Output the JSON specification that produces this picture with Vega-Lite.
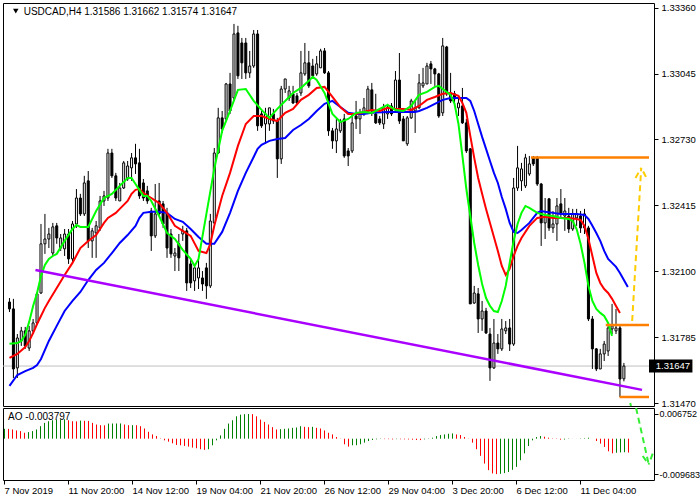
{
"$schema": "https://vega.github.io/schema/vega-lite/v6.json",
"background": "white",
"padding": {"left": 2, "top": 2, "right": 0, "bottom": 0},
"bounds": "flush",
"spacing": 2,
"config": {
  "view": {"stroke": "black", "strokeWidth": 1},
  "axis": {"labelFont": "Liberation Sans", "labelFontSize": 9.5, "labelColor": "black", "tickColor": "black", "domain": false, "grid": false},
  "text": {"font": "Liberation Sans"}
},
"datasets": {
"one": [{}],
"candles": [
{"i":0,"o":1.31953,"h":1.31972,"l":1.31905,"c":1.31920},
{"i":1,"o":1.31920,"h":1.31968,"l":1.31590,"c":1.31633},
{"i":2,"o":1.31638,"h":1.31800,"l":1.31590,"c":1.31781},
{"i":3,"o":1.31767,"h":1.31834,"l":1.31743,"c":1.31815},
{"i":4,"o":1.31815,"h":1.31834,"l":1.31729,"c":1.31743},
{"i":5,"o":1.31733,"h":1.31839,"l":1.31719,"c":1.31815},
{"i":6,"o":1.31815,"h":1.31872,"l":1.31800,"c":1.31853},
{"i":7,"o":1.31853,"h":1.32001,"l":1.31848,"c":1.31992},
{"i":8,"o":1.31996,"h":1.32326,"l":1.31992,"c":1.32231},
{"i":9,"o":1.32231,"h":1.32374,"l":1.32183,"c":1.32254},
{"i":10,"o":1.32254,"h":1.32307,"l":1.32211,"c":1.32278},
{"i":11,"o":1.32187,"h":1.32331,"l":1.32173,"c":1.32312},
{"i":12,"o":1.32317,"h":1.32331,"l":1.32231,"c":1.32259},
{"i":13,"o":1.32211,"h":1.32278,"l":1.32197,"c":1.32259},
{"i":14,"o":1.32207,"h":1.32302,"l":1.32173,"c":1.32278},
{"i":15,"o":1.32278,"h":1.32302,"l":1.32135,"c":1.32159},
{"i":16,"o":1.32159,"h":1.32340,"l":1.32135,"c":1.32326},
{"i":17,"o":1.32326,"h":1.32493,"l":1.32307,"c":1.32450},
{"i":18,"o":1.32450,"h":1.32470,"l":1.32364,"c":1.32374},
{"i":19,"o":1.32374,"h":1.32556,"l":1.32364,"c":1.32522},
{"i":20,"o":1.32532,"h":1.32579,"l":1.32211,"c":1.32245},
{"i":21,"o":1.32245,"h":1.32307,"l":1.32164,"c":1.32293},
{"i":22,"o":1.32283,"h":1.32340,"l":1.32164,"c":1.32317},
{"i":23,"o":1.32307,"h":1.32460,"l":1.32293,"c":1.32436},
{"i":24,"o":1.32436,"h":1.32484,"l":1.32412,"c":1.32460},
{"i":25,"o":1.32450,"h":1.32685,"l":1.32436,"c":1.32665},
{"i":26,"o":1.32665,"h":1.32685,"l":1.32546,"c":1.32556},
{"i":27,"o":1.32556,"h":1.32570,"l":1.32436,"c":1.32450},
{"i":28,"o":1.32436,"h":1.32522,"l":1.32436,"c":1.32498},
{"i":29,"o":1.32498,"h":1.32627,"l":1.32493,"c":1.32618},
{"i":30,"o":1.32541,"h":1.32627,"l":1.32532,"c":1.32603},
{"i":31,"o":1.32594,"h":1.32665,"l":1.32532,"c":1.32642},
{"i":32,"o":1.32642,"h":1.32709,"l":1.32565,"c":1.32613},
{"i":33,"o":1.32618,"h":1.32685,"l":1.32446,"c":1.32460},
{"i":34,"o":1.32522,"h":1.32541,"l":1.32436,"c":1.32450},
{"i":35,"o":1.32484,"h":1.32508,"l":1.32422,"c":1.32436},
{"i":36,"o":1.32388,"h":1.32403,"l":1.32197,"c":1.32269},
{"i":37,"o":1.32269,"h":1.32517,"l":1.32259,"c":1.32374},
{"i":38,"o":1.32436,"h":1.32522,"l":1.32364,"c":1.32374},
{"i":39,"o":1.32422,"h":1.32436,"l":1.32307,"c":1.32326},
{"i":40,"o":1.32379,"h":1.32403,"l":1.32164,"c":1.32211},
{"i":41,"o":1.32278,"h":1.32302,"l":1.32164,"c":1.32183},
{"i":42,"o":1.32173,"h":1.32211,"l":1.32101,"c":1.32187},
{"i":43,"o":1.32231,"h":1.32278,"l":1.32101,"c":1.32164},
{"i":44,"o":1.32278,"h":1.32317,"l":1.32245,"c":1.32293},
{"i":45,"o":1.32293,"h":1.32307,"l":1.32006,"c":1.32044},
{"i":46,"o":1.32135,"h":1.32159,"l":1.32020,"c":1.32044},
{"i":47,"o":1.32054,"h":1.32135,"l":1.32006,"c":1.32116},
{"i":48,"o":1.32068,"h":1.32164,"l":1.32015,"c":1.32116},
{"i":49,"o":1.32068,"h":1.32101,"l":1.32006,"c":1.32039},
{"i":50,"o":1.32116,"h":1.32140,"l":1.31968,"c":1.32030},
{"i":51,"o":1.32030,"h":1.32374,"l":1.32020,"c":1.32340},
{"i":52,"o":1.32331,"h":1.32689,"l":1.32326,"c":1.32665},
{"i":53,"o":1.32665,"h":1.32881,"l":1.32661,"c":1.32833},
{"i":54,"o":1.32833,"h":1.32866,"l":1.32761,"c":1.32780},
{"i":55,"o":1.32828,"h":1.33000,"l":1.32818,"c":1.32995},
{"i":56,"o":1.32995,"h":1.33048,"l":1.32852,"c":1.32866},
{"i":57,"o":1.32928,"h":1.33282,"l":1.32914,"c":1.33234},
{"i":58,"o":1.33239,"h":1.33273,"l":1.33019,"c":1.33034},
{"i":59,"o":1.33191,"h":1.33215,"l":1.33019,"c":1.33096},
{"i":60,"o":1.33191,"h":1.33215,"l":1.33019,"c":1.33048},
{"i":61,"o":1.33048,"h":1.33153,"l":1.33024,"c":1.33081},
{"i":62,"o":1.33081,"h":1.33253,"l":1.33072,"c":1.33234},
{"i":63,"o":1.33234,"h":1.33253,"l":1.32771,"c":1.32795},
{"i":64,"o":1.32852,"h":1.32866,"l":1.32785,"c":1.32795},
{"i":65,"o":1.32804,"h":1.32881,"l":1.32709,"c":1.32852},
{"i":66,"o":1.32804,"h":1.32881,"l":1.32771,"c":1.32881},
{"i":67,"o":1.32852,"h":1.32876,"l":1.32804,"c":1.32818},
{"i":68,"o":1.32818,"h":1.32833,"l":1.32546,"c":1.32637},
{"i":69,"o":1.32637,"h":1.32986,"l":1.32613,"c":1.32971},
{"i":70,"o":1.32971,"h":1.33019,"l":1.32952,"c":1.33019},
{"i":71,"o":1.32928,"h":1.32986,"l":1.32914,"c":1.32962},
{"i":72,"o":1.32948,"h":1.32986,"l":1.32900,"c":1.32904},
{"i":73,"o":1.32938,"h":1.32952,"l":1.32895,"c":1.32904},
{"i":74,"o":1.32952,"h":1.33153,"l":1.32938,"c":1.33048},
{"i":75,"o":1.33043,"h":1.33191,"l":1.33034,"c":1.33096},
{"i":76,"o":1.33096,"h":1.33153,"l":1.32976,"c":1.32986},
{"i":77,"o":1.33081,"h":1.33115,"l":1.33019,"c":1.33034},
{"i":78,"o":1.33043,"h":1.33129,"l":1.33034,"c":1.33091},
{"i":79,"o":1.33072,"h":1.33163,"l":1.33072,"c":1.33153},
{"i":80,"o":1.33153,"h":1.33167,"l":1.33043,"c":1.33048},
{"i":81,"o":1.33048,"h":1.33057,"l":1.32747,"c":1.32771},
{"i":82,"o":1.32771,"h":1.32785,"l":1.32685,"c":1.32723},
{"i":83,"o":1.32723,"h":1.32828,"l":1.32665,"c":1.32780},
{"i":84,"o":1.32771,"h":1.32828,"l":1.32761,"c":1.32818},
{"i":85,"o":1.32828,"h":1.32852,"l":1.32642,"c":1.32651},
{"i":86,"o":1.32675,"h":1.32689,"l":1.32603,"c":1.32651},
{"i":87,"o":1.32675,"h":1.32852,"l":1.32665,"c":1.32809},
{"i":88,"o":1.32842,"h":1.32914,"l":1.32780,"c":1.32828},
{"i":89,"o":1.32828,"h":1.32876,"l":1.32756,"c":1.32852},
{"i":90,"o":1.32857,"h":1.32928,"l":1.32842,"c":1.32881},
{"i":91,"o":1.32866,"h":1.32986,"l":1.32852,"c":1.32971},
{"i":92,"o":1.32967,"h":1.33000,"l":1.32842,"c":1.32866},
{"i":93,"o":1.32852,"h":1.32948,"l":1.32804,"c":1.32809},
{"i":94,"o":1.32828,"h":1.32842,"l":1.32799,"c":1.32809},
{"i":95,"o":1.32804,"h":1.32900,"l":1.32780,"c":1.32881},
{"i":96,"o":1.32852,"h":1.32900,"l":1.32828,"c":1.32881},
{"i":97,"o":1.32890,"h":1.32904,"l":1.32842,"c":1.32852},
{"i":98,"o":1.32876,"h":1.33057,"l":1.32866,"c":1.33014},
{"i":99,"o":1.33014,"h":1.33143,"l":1.32804,"c":1.32818},
{"i":100,"o":1.32828,"h":1.32842,"l":1.32723,"c":1.32723},
{"i":101,"o":1.32709,"h":1.32842,"l":1.32699,"c":1.32833},
{"i":102,"o":1.32833,"h":1.32924,"l":1.32828,"c":1.32914},
{"i":103,"o":1.32866,"h":1.32914,"l":1.32761,"c":1.32881},
{"i":104,"o":1.32881,"h":1.33043,"l":1.32876,"c":1.33000},
{"i":105,"o":1.32986,"h":1.33072,"l":1.32976,"c":1.33000},
{"i":106,"o":1.32995,"h":1.33096,"l":1.32995,"c":1.33081},
{"i":107,"o":1.33091,"h":1.33105,"l":1.32995,"c":1.33067},
{"i":108,"o":1.33067,"h":1.33072,"l":1.32986,"c":1.33043},
{"i":109,"o":1.33043,"h":1.33048,"l":1.32833,"c":1.32842},
{"i":110,"o":1.32857,"h":1.33215,"l":1.32842,"c":1.33177},
{"i":111,"o":1.33172,"h":1.33177,"l":1.32938,"c":1.32948},
{"i":112,"o":1.32952,"h":1.33048,"l":1.32904,"c":1.32914},
{"i":113,"o":1.32948,"h":1.32962,"l":1.32900,"c":1.32924},
{"i":114,"o":1.32881,"h":1.32928,"l":1.32842,"c":1.32904},
{"i":115,"o":1.32890,"h":1.32976,"l":1.32804,"c":1.32809},
{"i":116,"o":1.32809,"h":1.32828,"l":1.32665,"c":1.32675},
{"i":117,"o":1.32685,"h":1.32689,"l":1.31944,"c":1.31944},
{"i":118,"o":1.31948,"h":1.32030,"l":1.31944,"c":1.31996},
{"i":119,"o":1.31992,"h":1.32020,"l":1.31805,"c":1.31872},
{"i":120,"o":1.31872,"h":1.31958,"l":1.31815,"c":1.31910},
{"i":121,"o":1.31910,"h":1.31925,"l":1.31800,"c":1.31805},
{"i":122,"o":1.31800,"h":1.31829,"l":1.31576,"c":1.31638},
{"i":123,"o":1.31638,"h":1.31872,"l":1.31633,"c":1.31757},
{"i":124,"o":1.31757,"h":1.31800,"l":1.31705,"c":1.31729},
{"i":125,"o":1.31729,"h":1.31872,"l":1.31719,"c":1.31824},
{"i":126,"o":1.31815,"h":1.31862,"l":1.31800,"c":1.31829},
{"i":127,"o":1.31829,"h":1.31872,"l":1.31719,"c":1.31752},
{"i":128,"o":1.31752,"h":1.32546,"l":1.31743,"c":1.32498},
{"i":129,"o":1.32498,"h":1.32699,"l":1.32484,"c":1.32594},
{"i":130,"o":1.32532,"h":1.32618,"l":1.32484,"c":1.32589},
{"i":131,"o":1.32508,"h":1.32661,"l":1.32498,"c":1.32642},
{"i":132,"o":1.32565,"h":1.32651,"l":1.32556,"c":1.32613},
{"i":133,"o":1.32642,"h":1.32651,"l":1.32603,"c":1.32613},
{"i":134,"o":1.32642,"h":1.32651,"l":1.32508,"c":1.32517},
{"i":135,"o":1.32517,"h":1.32522,"l":1.32221,"c":1.32331},
{"i":136,"o":1.32331,"h":1.32450,"l":1.32254,"c":1.32364},
{"i":137,"o":1.32446,"h":1.32450,"l":1.32293,"c":1.32307},
{"i":138,"o":1.32307,"h":1.32388,"l":1.32283,"c":1.32326},
{"i":139,"o":1.32326,"h":1.32450,"l":1.32245,"c":1.32412},
{"i":140,"o":1.32422,"h":1.32493,"l":1.32355,"c":1.32374},
{"i":141,"o":1.32364,"h":1.32450,"l":1.32293,"c":1.32388},
{"i":142,"o":1.32364,"h":1.32403,"l":1.32283,"c":1.32302},
{"i":143,"o":1.32302,"h":1.32398,"l":1.32293,"c":1.32374},
{"i":144,"o":1.32355,"h":1.32398,"l":1.32317,"c":1.32374},
{"i":145,"o":1.32364,"h":1.32388,"l":1.32283,"c":1.32307},
{"i":146,"o":1.32307,"h":1.32398,"l":1.32278,"c":1.32374},
{"i":147,"o":1.32307,"h":1.32317,"l":1.31862,"c":1.31872},
{"i":148,"o":1.31872,"h":1.31886,"l":1.31633,"c":1.31729},
{"i":149,"o":1.31729,"h":1.31733,"l":1.31623,"c":1.31633},
{"i":150,"o":1.31633,"h":1.31729,"l":1.31633,"c":1.31705},
{"i":151,"o":1.31705,"h":1.31767,"l":1.31671,"c":1.31752},
{"i":152,"o":1.31719,"h":1.31853,"l":1.31695,"c":1.31829},
{"i":153,"o":1.31824,"h":1.31944,"l":1.31800,"c":1.31839},
{"i":154,"o":1.31815,"h":1.31920,"l":1.31800,"c":1.31829},
{"i":155,"o":1.31829,"h":1.31843,"l":1.31499,"c":1.31585},
{"i":156,"o":1.31586,"h":1.31662,"l":1.31574,"c":1.31647}
],
"lips": [
{"i":0,"v":1.31753},{"i":2,"v":1.31757},{"i":3,"v":1.31767},{"i":4,"v":1.31796},{"i":5,"v":1.31858},{"i":6,"v":1.31934},{"i":7,"v":1.31996},{"i":8,"v":1.32077},{"i":9,"v":1.32130},{"i":10,"v":1.32159},{"i":11,"v":1.32173},{"i":12,"v":1.32183},{"i":14,"v":1.32245},{"i":16,"v":1.32302},{"i":17,"v":1.32321},{"i":18,"v":1.32312},{"i":20,"v":1.32312},{"i":22,"v":1.32388},{"i":24,"v":1.32450},{"i":26,"v":1.32470},{"i":28,"v":1.32508},{"i":30,"v":1.32546},{"i":31,"v":1.32546},{"i":32,"v":1.32517},{"i":34,"v":1.32460},{"i":35,"v":1.32460},{"i":36,"v":1.32436},{"i":38,"v":1.32364},{"i":40,"v":1.32283},{"i":42,"v":1.32254},{"i":44,"v":1.32202},{"i":46,"v":1.32159},{"i":47,"v":1.32125},{"i":48,"v":1.32159},{"i":50,"v":1.32374},{"i":52,"v":1.32589},{"i":54,"v":1.32771},{"i":56,"v":1.32866},{"i":58,"v":1.32967},{"i":60,"v":1.32971},{"i":62,"v":1.32914},{"i":64,"v":1.32871},{"i":66,"v":1.32833},{"i":68,"v":1.32876},{"i":70,"v":1.32914},{"i":72,"v":1.32952},{"i":74,"v":1.32976},{"i":76,"v":1.33010},{"i":77,"v":1.33029},{"i":78,"v":1.33014},{"i":80,"v":1.32952},{"i":82,"v":1.32852},{"i":84,"v":1.32813},{"i":86,"v":1.32828},{"i":88,"v":1.32857},{"i":90,"v":1.32861},{"i":92,"v":1.32857},{"i":94,"v":1.32876},{"i":96,"v":1.32895},{"i":98,"v":1.32871},{"i":100,"v":1.32866},{"i":102,"v":1.32890},{"i":104,"v":1.32943},{"i":106,"v":1.32957},{"i":108,"v":1.32981},{"i":109,"v":1.32986},{"i":110,"v":1.32971},{"i":112,"v":1.32943},{"i":113,"v":1.32900},{"i":114,"v":1.32804},{"i":115,"v":1.32651},{"i":116,"v":1.32493},{"i":117,"v":1.32364},{"i":118,"v":1.32235},{"i":119,"v":1.32130},{"i":120,"v":1.32039},{"i":121,"v":1.31972},{"i":122,"v":1.31934},{"i":123,"v":1.31910},{"i":124,"v":1.31905},{"i":125,"v":1.31958},{"i":126,"v":1.32030},{"i":127,"v":1.32140},{"i":128,"v":1.32245},{"i":129,"v":1.32326},{"i":130,"v":1.32379},{"i":131,"v":1.32412},{"i":132,"v":1.32403},{"i":134,"v":1.32379},{"i":136,"v":1.32369},{"i":138,"v":1.32364},{"i":140,"v":1.32355},{"i":142,"v":1.32350},{"i":143,"v":1.32340},{"i":144,"v":1.32302},{"i":145,"v":1.32231},{"i":146,"v":1.32140},{"i":147,"v":1.32030},{"i":148,"v":1.31958},{"i":149,"v":1.31920},{"i":150,"v":1.31901},{"i":151,"v":1.31886},{"i":152,"v":1.31853},{"i":153,"v":1.31791}
],
"teeth": [
{"i":0,"v":1.31686},{"i":2,"v":1.31705},{"i":4,"v":1.31738},{"i":5,"v":1.31767},{"i":6,"v":1.31805},{"i":7,"v":1.31848},{"i":8,"v":1.31886},{"i":9,"v":1.31925},{"i":10,"v":1.31958},{"i":12,"v":1.32020},{"i":14,"v":1.32082},{"i":16,"v":1.32140},{"i":18,"v":1.32211},{"i":20,"v":1.32245},{"i":22,"v":1.32273},{"i":24,"v":1.32331},{"i":25,"v":1.32355},{"i":27,"v":1.32379},{"i":28,"v":1.32398},{"i":30,"v":1.32436},{"i":31,"v":1.32470},{"i":32,"v":1.32489},{"i":33,"v":1.32493},{"i":34,"v":1.32474},{"i":36,"v":1.32450},{"i":38,"v":1.32426},{"i":40,"v":1.32379},{"i":42,"v":1.32317},{"i":44,"v":1.32293},{"i":46,"v":1.32269},{"i":48,"v":1.32197},{"i":50,"v":1.32187},{"i":51,"v":1.32231},{"i":52,"v":1.32317},{"i":54,"v":1.32460},{"i":56,"v":1.32570},{"i":58,"v":1.32699},{"i":60,"v":1.32804},{"i":62,"v":1.32842},{"i":64,"v":1.32842},{"i":66,"v":1.32828},{"i":68,"v":1.32818},{"i":70,"v":1.32857},{"i":72,"v":1.32876},{"i":74,"v":1.32919},{"i":76,"v":1.32943},{"i":78,"v":1.32976},{"i":80,"v":1.32981},{"i":82,"v":1.32933},{"i":84,"v":1.32885},{"i":86,"v":1.32852},{"i":88,"v":1.32852},{"i":90,"v":1.32861},{"i":92,"v":1.32871},{"i":94,"v":1.32866},{"i":96,"v":1.32881},{"i":98,"v":1.32876},{"i":100,"v":1.32876},{"i":102,"v":1.32871},{"i":104,"v":1.32890},{"i":106,"v":1.32919},{"i":108,"v":1.32933},{"i":110,"v":1.32948},{"i":112,"v":1.32952},{"i":114,"v":1.32938},{"i":115,"v":1.32904},{"i":116,"v":1.32857},{"i":117,"v":1.32747},{"i":118,"v":1.32642},{"i":119,"v":1.32546},{"i":120,"v":1.32470},{"i":121,"v":1.32398},{"i":122,"v":1.32331},{"i":123,"v":1.32264},{"i":124,"v":1.32197},{"i":125,"v":1.32125},{"i":126,"v":1.32082},{"i":127,"v":1.32111},{"i":128,"v":1.32173},{"i":129,"v":1.32221},{"i":130,"v":1.32259},{"i":132,"v":1.32317},{"i":134,"v":1.32355},{"i":136,"v":1.32360},{"i":138,"v":1.32355},{"i":140,"v":1.32355},{"i":142,"v":1.32355},{"i":144,"v":1.32350},{"i":145,"v":1.32345},{"i":146,"v":1.32317},{"i":147,"v":1.32254},{"i":148,"v":1.32173},{"i":149,"v":1.32092},{"i":150,"v":1.32044},{"i":151,"v":1.32015},{"i":152,"v":1.31996},{"i":153,"v":1.31968},{"i":154,"v":1.31934},{"i":155,"v":1.31901}
],
"jaw": [
{"i":0,"v":1.31552},{"i":2,"v":1.31604},{"i":4,"v":1.31623},{"i":6,"v":1.31638},{"i":7,"v":1.31652},{"i":8,"v":1.31681},{"i":10,"v":1.31767},{"i":12,"v":1.31839},{"i":14,"v":1.31910},{"i":16,"v":1.31958},{"i":18,"v":1.32001},{"i":20,"v":1.32058},{"i":22,"v":1.32106},{"i":24,"v":1.32140},{"i":26,"v":1.32187},{"i":28,"v":1.32235},{"i":30,"v":1.32273},{"i":32,"v":1.32317},{"i":33,"v":1.32355},{"i":34,"v":1.32379},{"i":36,"v":1.32384},{"i":38,"v":1.32384},{"i":40,"v":1.32379},{"i":42,"v":1.32350},{"i":44,"v":1.32336},{"i":46,"v":1.32302},{"i":48,"v":1.32264},{"i":50,"v":1.32231},{"i":52,"v":1.32231},{"i":54,"v":1.32288},{"i":56,"v":1.32379},{"i":58,"v":1.32484},{"i":60,"v":1.32570},{"i":62,"v":1.32646},{"i":63,"v":1.32685},{"i":64,"v":1.32704},{"i":66,"v":1.32723},{"i":68,"v":1.32732},{"i":70,"v":1.32737},{"i":72,"v":1.32775},{"i":74,"v":1.32799},{"i":76,"v":1.32828},{"i":78,"v":1.32866},{"i":80,"v":1.32900},{"i":82,"v":1.32914},{"i":84,"v":1.32885},{"i":86,"v":1.32857},{"i":88,"v":1.32852},{"i":90,"v":1.32852},{"i":92,"v":1.32857},{"i":96,"v":1.32861},{"i":100,"v":1.32861},{"i":103,"v":1.32861},{"i":104,"v":1.32866},{"i":106,"v":1.32881},{"i":108,"v":1.32900},{"i":110,"v":1.32919},{"i":112,"v":1.32928},{"i":114,"v":1.32928},{"i":116,"v":1.32928},{"i":117,"v":1.32914},{"i":118,"v":1.32866},{"i":119,"v":1.32804},{"i":120,"v":1.32742},{"i":121,"v":1.32685},{"i":122,"v":1.32627},{"i":123,"v":1.32570},{"i":124,"v":1.32522},{"i":125,"v":1.32455},{"i":126,"v":1.32398},{"i":127,"v":1.32331},{"i":128,"v":1.32288},{"i":129,"v":1.32283},{"i":130,"v":1.32297},{"i":132,"v":1.32331},{"i":134,"v":1.32379},{"i":135,"v":1.32388},{"i":136,"v":1.32384},{"i":138,"v":1.32379},{"i":140,"v":1.32374},{"i":142,"v":1.32374},{"i":144,"v":1.32374},{"i":146,"v":1.32369},{"i":147,"v":1.32350},{"i":148,"v":1.32317},{"i":149,"v":1.32283},{"i":150,"v":1.32245},{"i":151,"v":1.32197},{"i":152,"v":1.32159},{"i":153,"v":1.32140},{"i":154,"v":1.32121},{"i":155,"v":1.32092},{"i":156,"v":1.32058},{"i":157,"v":1.32025}
],
"levels": [
{"x1":132.4,"x2":162.375,"y":1.32644},
{"x1":151.4,"x2":162.375,"y":1.31843},
{"x1":154.9,"x2":162.375,"y":1.31499}
],
"trend": [{"x1":6.6,"y1":1.32106,"x2":160.6,"y2":1.31533}],
"upArrow": [
{"x1":158.1,"y1":1.31862,"x2":160.4,"y2":1.32594},
{"x1":158.95,"y1":1.32546,"x2":160.4,"y2":1.32594},
{"x1":161.6,"y1":1.32551,"x2":160.4,"y2":1.32594}
],
"downArrowTop": [{"x1":157.6,"y1":1.31470,"x2":157.8,"y2":1.31456}],
"downArrow": [
{"x1":157.9,"y1":0.00839,"x2":161.05,"y2":-0.00700},
{"x1":159.55,"y1":-0.00473,"x2":161.05,"y2":-0.00700},
{"x1":162.05,"y1":-0.00410,"x2":161.05,"y2":-0.00700}
],
"ao": [
{"i":0,"v":0.00270,"d":"u"},{"i":1,"v":0.00268,"d":"d"},{"i":2,"v":0.00252,"d":"d"},{"i":3,"v":0.00225,"d":"d"},{"i":4,"v":0.00207,"d":"d"},{"i":5,"v":0.00162,"d":"d"},{"i":6,"v":0.00180,"d":"u"},{"i":7,"v":0.00207,"d":"u"},{"i":8,"v":0.00252,"d":"u"},{"i":9,"v":0.00342,"d":"u"},{"i":10,"v":0.00432,"d":"u"},{"i":11,"v":0.00477,"d":"u"},{"i":12,"v":0.00504,"d":"u"},{"i":13,"v":0.00522,"d":"u"},{"i":14,"v":0.00527,"d":"u"},{"i":15,"v":0.00531,"d":"u"},{"i":16,"v":0.00504,"d":"d"},{"i":17,"v":0.00477,"d":"d"},{"i":18,"v":0.00473,"d":"d"},{"i":19,"v":0.00495,"d":"u"},{"i":20,"v":0.00490,"d":"d"},{"i":21,"v":0.00486,"d":"d"},{"i":22,"v":0.00432,"d":"d"},{"i":23,"v":0.00387,"d":"d"},{"i":24,"v":0.00369,"d":"d"},{"i":25,"v":0.00366,"d":"d"},{"i":26,"v":0.00414,"d":"u"},{"i":27,"v":0.00415,"d":"u"},{"i":28,"v":0.00416,"d":"u"},{"i":29,"v":0.00417,"d":"u"},{"i":30,"v":0.00387,"d":"d"},{"i":31,"v":0.00369,"d":"d"},{"i":32,"v":0.00370,"d":"u"},{"i":33,"v":0.00368,"d":"d"},{"i":34,"v":0.00342,"d":"d"},{"i":35,"v":0.00279,"d":"d"},{"i":36,"v":0.00189,"d":"d"},{"i":37,"v":0.00117,"d":"d"},{"i":38,"v":0.00072,"d":"d"},{"i":39,"v":0.00009,"d":"d"},{"i":40,"v":-0.00045,"d":"d"},{"i":41,"v":-0.00081,"d":"d"},{"i":42,"v":-0.00126,"d":"d"},{"i":43,"v":-0.00171,"d":"d"},{"i":44,"v":-0.00180,"d":"d"},{"i":45,"v":-0.00198,"d":"d"},{"i":46,"v":-0.00216,"d":"d"},{"i":47,"v":-0.00243,"d":"d"},{"i":48,"v":-0.00261,"d":"d"},{"i":49,"v":-0.00288,"d":"d"},{"i":50,"v":-0.00306,"d":"d"},{"i":51,"v":-0.00288,"d":"u"},{"i":52,"v":-0.00180,"d":"u"},{"i":53,"v":-0.00045,"d":"u"},{"i":54,"v":0.00090,"d":"u"},{"i":55,"v":0.00270,"d":"u"},{"i":56,"v":0.00414,"d":"u"},{"i":57,"v":0.00504,"d":"u"},{"i":58,"v":0.00612,"d":"u"},{"i":59,"v":0.00657,"d":"u"},{"i":60,"v":0.00670,"d":"u"},{"i":61,"v":0.006752,"d":"u"},{"i":62,"v":0.00672,"d":"d"},{"i":63,"v":0.00612,"d":"d"},{"i":64,"v":0.00522,"d":"d"},{"i":65,"v":0.00459,"d":"d"},{"i":66,"v":0.00387,"d":"d"},{"i":67,"v":0.00315,"d":"d"},{"i":68,"v":0.00252,"d":"d"},{"i":69,"v":0.00261,"d":"u"},{"i":70,"v":0.00270,"d":"u"},{"i":71,"v":0.00279,"d":"u"},{"i":72,"v":0.00297,"d":"u"},{"i":73,"v":0.00306,"d":"u"},{"i":74,"v":0.00342,"d":"u"},{"i":75,"v":0.00324,"d":"d"},{"i":76,"v":0.00315,"d":"d"},{"i":77,"v":0.00324,"d":"u"},{"i":78,"v":0.00297,"d":"d"},{"i":79,"v":0.00279,"d":"d"},{"i":80,"v":0.00225,"d":"d"},{"i":81,"v":0.00162,"d":"d"},{"i":82,"v":0.00117,"d":"d"},{"i":83,"v":0.00045,"d":"d"},{"i":84,"v":-0.00005,"d":"d"},{"i":85,"v":-0.00153,"d":"d"},{"i":86,"v":-0.00216,"d":"d"},{"i":87,"v":-0.00180,"d":"u"},{"i":88,"v":-0.00178,"d":"u"},{"i":89,"v":-0.00153,"d":"u"},{"i":90,"v":-0.00108,"d":"u"},{"i":91,"v":-0.00063,"d":"u"},{"i":92,"v":-0.00036,"d":"u"},{"i":93,"v":-0.00018,"d":"u"},{"i":94,"v":-0.00009,"d":"u"},{"i":95,"v":-0.00011,"d":"d"},{"i":96,"v":-0.00013,"d":"d"},{"i":97,"v":-0.00020,"d":"d"},{"i":98,"v":-0.00012,"d":"u"},{"i":99,"v":-0.00015,"d":"d"},{"i":100,"v":-0.00018,"d":"d"},{"i":101,"v":-0.00020,"d":"d"},{"i":102,"v":-0.00027,"d":"d"},{"i":103,"v":-0.00036,"d":"d"},{"i":104,"v":-0.00038,"d":"d"},{"i":105,"v":-0.00018,"d":"u"},{"i":106,"v":0.00009,"d":"u"},{"i":107,"v":0.00027,"d":"u"},{"i":108,"v":0.00072,"d":"u"},{"i":109,"v":0.00099,"d":"u"},{"i":110,"v":0.00117,"d":"u"},{"i":111,"v":0.00135,"d":"u"},{"i":112,"v":0.00144,"d":"u"},{"i":113,"v":0.00117,"d":"d"},{"i":114,"v":0.00099,"d":"d"},{"i":115,"v":0.00045,"d":"d"},{"i":116,"v":-0.00005,"d":"d"},{"i":117,"v":-0.00108,"d":"d"},{"i":118,"v":-0.00288,"d":"d"},{"i":119,"v":-0.00468,"d":"d"},{"i":120,"v":-0.00680,"d":"d"},{"i":121,"v":-0.00860,"d":"d"},{"i":122,"v":-0.00950,"d":"d"},{"i":123,"v":-0.009683,"d":"d"},{"i":124,"v":-0.00960,"d":"u"},{"i":125,"v":-0.00940,"d":"u"},{"i":126,"v":-0.00910,"d":"u"},{"i":127,"v":-0.00850,"d":"u"},{"i":128,"v":-0.00770,"d":"u"},{"i":129,"v":-0.00590,"d":"u"},{"i":130,"v":-0.00400,"d":"u"},{"i":131,"v":-0.00200,"d":"u"},{"i":132,"v":-0.00045,"d":"u"},{"i":133,"v":0.00045,"d":"u"},{"i":134,"v":0.00072,"d":"u"},{"i":135,"v":0.00054,"d":"d"},{"i":136,"v":0.00027,"d":"d"},{"i":137,"v":0.00009,"d":"d"},{"i":138,"v":-0.00009,"d":"d"},{"i":139,"v":-0.00027,"d":"d"},{"i":140,"v":-0.00022,"d":"u"},{"i":141,"v":-0.00009,"d":"u"},{"i":142,"v":-0.00002,"d":"u"},{"i":143,"v":0.00002,"d":"u"},{"i":144,"v":0.00009,"d":"u"},{"i":145,"v":0.00012,"d":"u"},{"i":146,"v":0.00027,"d":"u"},{"i":147,"v":-0.00001,"d":"d"},{"i":148,"v":-0.00063,"d":"d"},{"i":149,"v":-0.00135,"d":"d"},{"i":150,"v":-0.00225,"d":"d"},{"i":151,"v":-0.00345,"d":"d"},{"i":152,"v":-0.00400,"d":"d"},{"i":153,"v":-0.00385,"d":"u"},{"i":154,"v":-0.00375,"d":"u"},{"i":155,"v":-0.00370,"d":"u"},{"i":156,"v":-0.003797,"d":"d"}
]
},
"vconcat": [
{
  "width": 651, "height": 403,
  "layer": [
    {"data": {"name": "one"}, "mark": {"type": "rule", "color": "#C0C0C0", "strokeWidth": 1},
     "encoding": {"y": {"datum": 1.31647, "type": "quantitative",
        "scale": {"domain": [1.31456, 1.33382], "nice": false, "zero": false},
        "axis": {"orient": "right", "title": null, "labelFont": "Liberation Sans", "labelFontSize": 9.5, "values": [1.3336, 1.332, 1.33045, 1.32885, 1.3273, 1.3257, 1.32415, 1.3226, 1.321, 1.31945, 1.31785, 1.3163, 1.3147], "format": ".5f", "tickSize": 4, "labelPadding": 3}}}},
    {"data": {"name": "candles"}, "mark": {"type": "rule", "color": "black", "strokeWidth": 1},
     "encoding": {
       "x": {"field": "i", "type": "quantitative", "scale": {"domain": [-0.375, 162.375], "nice": false, "zero": false}, "axis": null},
       "y": {"field": "l", "type": "quantitative"},
       "y2": {"field": "h"}}},
    {"data": {"name": "candles"}, "mark": {"type": "bar", "width": 2, "stroke": "black", "strokeWidth": 1},
     "encoding": {
       "x": {"field": "i", "type": "quantitative"},
       "y": {"field": "o", "type": "quantitative"},
       "y2": {"field": "c"},
       "fill": {"condition": {"test": "datum.c >= datum.o", "value": "white"}, "value": "black"}}},
    {"data": {"name": "jaw"}, "mark": {"type": "line", "color": "#0000FF", "strokeWidth": 2},
     "encoding": {"x": {"field": "i", "type": "quantitative"}, "y": {"field": "v", "type": "quantitative"}}},
    {"data": {"name": "teeth"}, "mark": {"type": "line", "color": "#FF0000", "strokeWidth": 2},
     "encoding": {"x": {"field": "i", "type": "quantitative"}, "y": {"field": "v", "type": "quantitative"}}},
    {"data": {"name": "lips"}, "mark": {"type": "line", "color": "#00FF00", "strokeWidth": 2},
     "encoding": {"x": {"field": "i", "type": "quantitative"}, "y": {"field": "v", "type": "quantitative"}}},
    {"data": {"name": "trend"}, "mark": {"type": "rule", "color": "#AA00FF", "strokeWidth": 2.5},
     "encoding": {"x": {"field": "x1", "type": "quantitative"}, "x2": {"field": "x2"}, "y": {"field": "y1", "type": "quantitative"}, "y2": {"field": "y2"}}},
    {"data": {"name": "levels"}, "mark": {"type": "rule", "color": "#FF7F00", "strokeWidth": 2.5},
     "encoding": {"x": {"field": "x1", "type": "quantitative"}, "x2": {"field": "x2"}, "y": {"field": "y", "type": "quantitative"}}},
    {"data": {"name": "upArrow"}, "mark": {"type": "rule", "color": "#FFCC00", "strokeWidth": 2, "strokeDash": [6, 4]},
     "encoding": {"x": {"field": "x1", "type": "quantitative"}, "x2": {"field": "x2"}, "y": {"field": "y1", "type": "quantitative"}, "y2": {"field": "y2"}}},
    {"data": {"name": "downArrowTop"}, "mark": {"type": "rule", "color": "#33EE33", "strokeWidth": 2},
     "encoding": {"x": {"field": "x1", "type": "quantitative"}, "x2": {"field": "x2"}, "y": {"field": "y1", "type": "quantitative"}, "y2": {"field": "y2"}}},
    {"data": {"name": "one"}, "mark": {"type": "point", "shape": "triangle-down", "filled": true, "color": "black", "size": 30, "opacity": 1},
     "encoding": {"x": {"datum": 1.6, "type": "quantitative"}, "y": {"datum": 1.33343, "type": "quantitative"}}},
    {"data": {"name": "one"}, "mark": {"type": "text", "align": "left", "baseline": "middle", "font": "Liberation Sans", "fontSize": 10, "color": "black"},
     "encoding": {"x": {"datum": 3.6, "type": "quantitative"}, "y": {"datum": 1.33339, "type": "quantitative"}, "text": {"value": "USDCAD,H4  1.31586 1.31662 1.31574 1.31647"}}},
    {"data": {"name": "one"}, "mark": {"type": "rect", "color": "black", "opacity": 1},
     "encoding": {"x": {"datum": 162.375, "type": "quantitative"}, "x2": {"datum": 173.4}, "y": {"datum": 1.31678, "type": "quantitative"}, "y2": {"datum": 1.31616}}},
    {"data": {"name": "one"}, "mark": {"type": "text", "align": "left", "baseline": "middle", "font": "Liberation Sans", "fontSize": 9.5, "color": "white"},
     "encoding": {"x": {"datum": 164.1, "type": "quantitative"}, "y": {"datum": 1.31647, "type": "quantitative"}, "text": {"value": "1.31647"}}}
  ]
},
{
  "width": 651, "height": 72,
  "layer": [
    {"data": {"name": "ao"}, "mark": {"type": "rule", "strokeWidth": 1},
     "encoding": {
       "x": {"field": "i", "type": "quantitative", "scale": {"domain": [-0.375, 162.375], "nice": false, "zero": false},
         "axis": {"orient": "bottom", "title": null, "labelFont": "Liberation Sans", "labelFontSize": 9.5, "values": [-0.125, 15.875, 31.875, 47.875, 63.875, 79.875, 95.875, 111.875, 127.875, 143.875],
           "labelExpr": "datum.value < 8 ? '7 Nov 2019' : datum.value < 24 ? '11 Nov 20:00' : datum.value < 40 ? '14 Nov 12:00' : datum.value < 56 ? '19 Nov 04:00' : datum.value < 72 ? '21 Nov 20:00' : datum.value < 88 ? '26 Nov 12:00' : datum.value < 104 ? '29 Nov 04:00' : datum.value < 120 ? '3 Dec 20:00' : datum.value < 136 ? '6 Dec 12:00' : '11 Dec 04:00'",
           "labelAlign": "left", "tickSize": 4, "labelPadding": 1, "labelFlush": false, "labelOverlap": false, "labelBound": false}},
       "y": {"field": "v", "type": "quantitative", "scale": {"domain": [-0.01129, 0.00839], "nice": false, "zero": false},
         "axis": {"orient": "right", "title": null, "labelFont": "Liberation Sans", "labelFontSize": 9, "values": [0.006752, 0, -0.009683], "labelExpr": "datum.value == 0 ? '0.00' : (datum.value > 0 ? '0.006752' : '-0.009683')", "tickSize": 4, "labelPadding": 1}},
       "y2": {"datum": 0},
       "color": {"condition": {"test": "datum.d == 'u'", "value": "#008000"}, "value": "#FF0000"}}},
    {"data": {"name": "one"}, "mark": {"type": "text", "align": "left", "baseline": "middle", "font": "Liberation Sans", "fontSize": 10, "color": "black"},
     "encoding": {"x": {"datum": 0.9, "type": "quantitative"}, "y": {"datum": 0.00593, "type": "quantitative"}, "text": {"value": "AO -0.003797"}}},
    {"data": {"name": "downArrow"}, "mark": {"type": "rule", "color": "#33EE33", "strokeWidth": 2, "strokeDash": [6, 4]},
     "encoding": {"x": {"field": "x1", "type": "quantitative"}, "x2": {"field": "x2"}, "y": {"field": "y1", "type": "quantitative"}, "y2": {"field": "y2"}}}
  ]
}
]
}
